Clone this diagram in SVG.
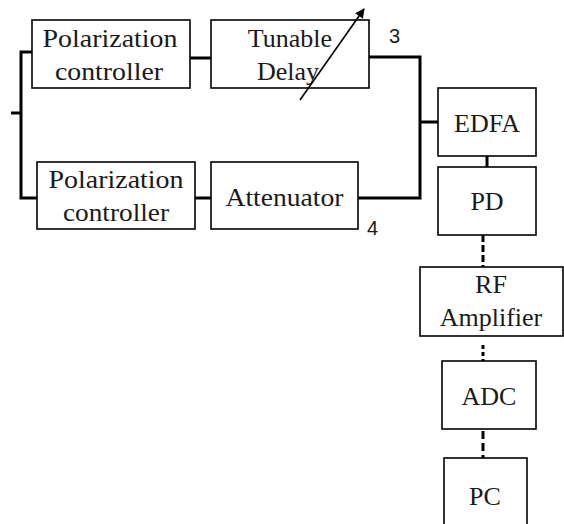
<svg xmlns="http://www.w3.org/2000/svg" width="564" height="524" viewBox="0 0 564 524">
<defs>
<style>
.box{fill:#fff;stroke:#000;stroke-width:1.6}
.t{font-family:'Liberation Serif','Times New Roman',serif;font-size:26px;fill:#1a1a1a;text-anchor:middle}
.n{font-family:'Liberation Sans',Arial,sans-serif;font-size:20px;fill:#1a1a1a}
.c{fill:none;stroke:#000;stroke-width:3}
.d{fill:none;stroke:#000;stroke-width:3}
</style>
<marker id="ah" viewBox="0 0 10 10" refX="9" refY="5" markerWidth="6" markerHeight="6" orient="auto">
<path d="M0,0 L10,5 L0,10 z" fill="#000"/>
</marker>
</defs>
<rect width="564" height="524" fill="#fff"/>
<g id="connectors">
<path class="c" d="M11,113 H21"/>
<path class="c" d="M32,52 H21 V198 H37"/>
<path class="c" d="M190,58 H211"/>
<path class="c" d="M195,198 H211"/>
<path class="c" d="M369,57 H420 V198 H358"/>
<path class="c" d="M420,122 H438"/>
<path class="c" d="M487,156 V168"/>
<path class="d" d="M483,235 V267" stroke-dasharray="7 3"/>
<path class="d" d="M483,345 V361" stroke-dasharray="4 3"/>
<path class="d" d="M483,431 V458" stroke-dasharray="8 4"/>
</g>
<g id="pc1">
<rect class="box" x="32" y="20" width="158" height="68"/>
<text class="t" x="110" y="47" textLength="135" lengthAdjust="spacingAndGlyphs">Polarization</text>
<text class="t" x="109" y="80" textLength="108" lengthAdjust="spacingAndGlyphs">controller</text>
</g>
<g id="delay">
<rect class="box" x="211" y="20" width="158" height="68"/>
<text class="t" x="290" y="47">Tunable</text>
<text class="t" x="288" y="80">Delay</text>
<line x1="300" y1="100" x2="364" y2="9" stroke="#000" stroke-width="1.6" marker-end="url(#ah)"/>
</g>
<g id="pc2">
<rect class="box" x="37" y="162" width="158" height="67"/>
<text class="t" x="116" y="188" textLength="135" lengthAdjust="spacingAndGlyphs">Polarization</text>
<text class="t" x="116" y="221" textLength="106" lengthAdjust="spacingAndGlyphs">controller</text>
</g>
<g id="attenuator">
<rect class="box" x="211" y="162" width="147" height="67"/>
<text class="t" x="284.5" y="206" textLength="118" lengthAdjust="spacingAndGlyphs">Attenuator</text>
</g>
<g id="label3"><text class="n" x="389" y="43">3</text></g>
<g id="label4"><text class="n" x="367" y="235">4</text></g>
<g id="edfa">
<rect class="box" x="438" y="88" width="98" height="68"/>
<text class="t" x="487" y="132">EDFA</text>
</g>
<g id="pd">
<rect class="box" x="438" y="167" width="98" height="68"/>
<text class="t" x="487" y="210">PD</text>
</g>
<g id="rf">
<rect class="box" x="420" y="267" width="143" height="69"/>
<text class="t" x="491" y="293">RF</text>
<text class="t" x="491" y="326">Amplifier</text>
</g>
<g id="adc">
<rect class="box" x="442" y="361" width="94" height="68"/>
<text class="t" x="489" y="405">ADC</text>
</g>
<g id="pc">
<rect class="box" x="444" y="458" width="83" height="80"/>
<text class="t" x="485" y="505">PC</text>
</g>
</svg>
